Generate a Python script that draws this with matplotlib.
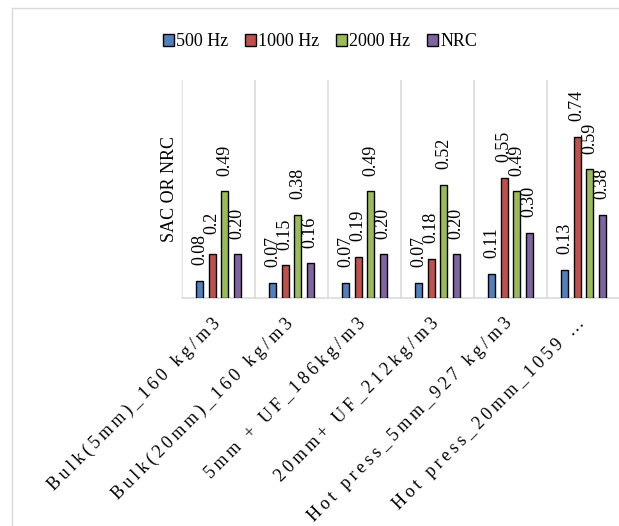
import numpy as np
import matplotlib
matplotlib.use('Agg')
import matplotlib.pyplot as plt
from matplotlib.patches import Rectangle
from matplotlib.transforms import ScaledTranslation

plt.rcParams['font.family'] = ['Liberation Serif', 'DejaVu Serif']

categories = ['Bulk(5mm)_160 kg/m3', 'Bulk(20mm)_160 kg/m3', '5mm + UF_186kg/m3',
              '20mm+ UF_212kg/m3', 'Hot press_5mm_927 kg/m3', 'Hot press_20mm_1059 \u2026']
series = ['500 Hz', '1000 Hz', '2000 Hz', 'NRC']
hz500 = [0.08, 0.07, 0.07, 0.07, 0.11, 0.13]
hz1000 = [0.2, 0.15, 0.19, 0.18, 0.55, 0.74]
hz2000 = [0.49, 0.38, 0.49, 0.52, 0.49, 0.59]
nrc = [0.20, 0.16, 0.20, 0.20, 0.30, 0.38]
# printed labels (first 1000 Hz value is shown as "0.2")
labels500 = ['0.08', '0.07', '0.07', '0.07', '0.11', '0.13']
labels1000 = ['0.2', '0.15', '0.19', '0.18', '0.55', '0.74']
labels2000 = ['0.49', '0.38', '0.49', '0.52', '0.49', '0.59']
labels_nrc = ['0.20', '0.16', '0.20', '0.20', '0.30', '0.38']

colors = ['#4F81BD', '#C0504D', '#9BBB59', '#8064A2']
grid_c = '#D9D9D9'


def spaced(s):
	# widen letter spacing like the excel axis labels
	return '\u2009'.join(list(s))


W, H = 619, 526
fig = plt.figure(figsize=(W / 100, H / 100), dpi=100)
ax = fig.add_axes([182 / W, 1 - 298 / H, (620 - 182) / W, (298 - 80) / H])

# chart area border
fig.patches.append(Rectangle((12 / W, -0.1), 1.2, 1 - 8 / H + 0.1, transform=fig.transFigure,
                             fill=False, edgecolor=grid_c, lw=1.0))

x = np.arange(len(categories))
step, width = 0.171, 0.1
data = [hz500, hz1000, hz2000, nrc]
texts = [labels500, labels1000, labels2000, labels_nrc]
for i in range(4):
	xs = x + (i - 1.5) * step
	bars = ax.bar(xs, data[i], width=width, color=colors[i], edgecolor='black',
	              linewidth=1.0, label=series[i], zorder=3)
	for b, t in zip(bars, texts[i]):
		ax.annotate(t, (b.get_x() + b.get_width() / 2, b.get_height()),
		            xytext=(0, 22.5), textcoords='offset points', rotation=90,
		            ha='center', va='center', fontsize=13)

# separators between categories
for k in range(len(categories) + 1):
	ax.axvline(k - 0.5, color=grid_c, lw=1.1, zorder=1)

ax.set_xlim(-0.5, len(categories) - 0.5)
ax.set_ylim(0, 1.0)
ax.set_yticks([])
for s in ['top', 'right', 'left']:
	ax.spines[s].set_visible(False)
ax.spines['bottom'].set_color(grid_c)
ax.spines['bottom'].set_linewidth(1.1)

ax.set_xticks(x)
ax.set_xticklabels([spaced(c) for c in categories], rotation=45, ha='right',
                   rotation_mode='anchor', fontsize=13)
ax.tick_params(axis='x', length=0, pad=12)
# nudge the slanted labels so they end at the category centre
shift = ScaledTranslation(-7 / 100, 0, fig.dpi_scale_trans)
for lab in ax.get_xticklabels():
	lab.set_transform(lab.get_transform() + shift)

ax.set_ylabel('SAC OR NRC', fontsize=13)
ax.yaxis.set_label_coords(-0.008, 0.5)

fig.legend(loc='center', bbox_to_anchor=(320 / W, 1 - 42 / H), ncol=4, frameon=False,
           fontsize=13, handlelength=0.6, handleheight=0.6, handletextpad=0.15,
           columnspacing=0.9)

plt.savefig('out.png', dpi=100)
